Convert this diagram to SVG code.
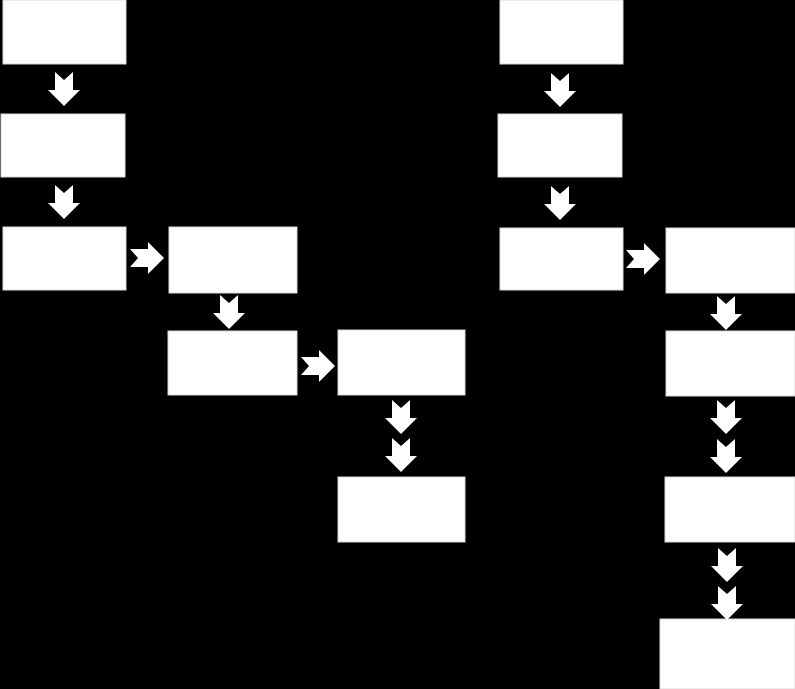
<svg xmlns="http://www.w3.org/2000/svg" xmlns:xlink="http://www.w3.org/1999/xlink" width="795" height="689" viewBox="0 0 795 689">
<style>
.box{fill:#ffffff;stroke:#d8d8d8;stroke-width:1}
.arr{fill:#ffffff}
</style>
<defs>
<path id="dn" class="arr" d="M -9,0 L 0,8 L 9,0 L 9,18 L 16,18 L 0,34 L -16,18 L -9,18 Z"/>
</defs>
<rect x="0" y="0" width="795" height="689" fill="#000000"/>
<g id="n1"><rect class="box" x="3" y="0" width="123" height="64"/></g>
<g id="n2"><rect class="box" x="1" y="114" width="124" height="63"/></g>
<g id="n3"><rect class="box" x="3" y="227" width="123" height="63"/></g>
<g id="n4"><rect class="box" x="169" y="227" width="128" height="66"/></g>
<g id="n5"><rect class="box" x="168" y="331" width="129" height="64"/></g>
<g id="n6"><rect class="box" x="338" y="330" width="127" height="65"/></g>
<g id="n7"><rect class="box" x="338" y="477" width="127" height="65"/></g>
<g id="r1"><rect class="box" x="500" y="0" width="123" height="64"/></g>
<g id="r2"><rect class="box" x="498" y="114" width="124" height="63"/></g>
<g id="r3"><rect class="box" x="500" y="228" width="123" height="62"/></g>
<g id="r4"><rect class="box" x="666" y="228" width="129" height="65"/></g>
<g id="r5"><rect class="box" x="666" y="331" width="129" height="65"/></g>
<g id="r6"><rect class="box" x="665" y="477" width="130" height="65"/></g>
<g id="r7"><rect class="box" x="660" y="619" width="135" height="70"/></g>
<g id="connectors">
<use xlink:href="#dn" href="#dn" transform="translate(64,72)"/>
<use xlink:href="#dn" href="#dn" transform="translate(64,185)"/>
<use xlink:href="#dn" href="#dn" transform="translate(130,258) rotate(-90)"/>
<use xlink:href="#dn" href="#dn" transform="translate(229,295)"/>
<use xlink:href="#dn" href="#dn" transform="translate(301,366) rotate(-90)"/>
<use xlink:href="#dn" href="#dn" transform="translate(401,400)"/>
<use xlink:href="#dn" href="#dn" transform="translate(401,438)"/>
<use xlink:href="#dn" href="#dn" transform="translate(560,73)"/>
<use xlink:href="#dn" href="#dn" transform="translate(560,186)"/>
<use xlink:href="#dn" href="#dn" transform="translate(626,259) rotate(-90)"/>
<use xlink:href="#dn" href="#dn" transform="translate(726,296)"/>
<use xlink:href="#dn" href="#dn" transform="translate(726,400)"/>
<use xlink:href="#dn" href="#dn" transform="translate(726,439)"/>
<use xlink:href="#dn" href="#dn" transform="translate(727,548)"/>
<use xlink:href="#dn" href="#dn" transform="translate(727,586)"/>
</g>
</svg>
